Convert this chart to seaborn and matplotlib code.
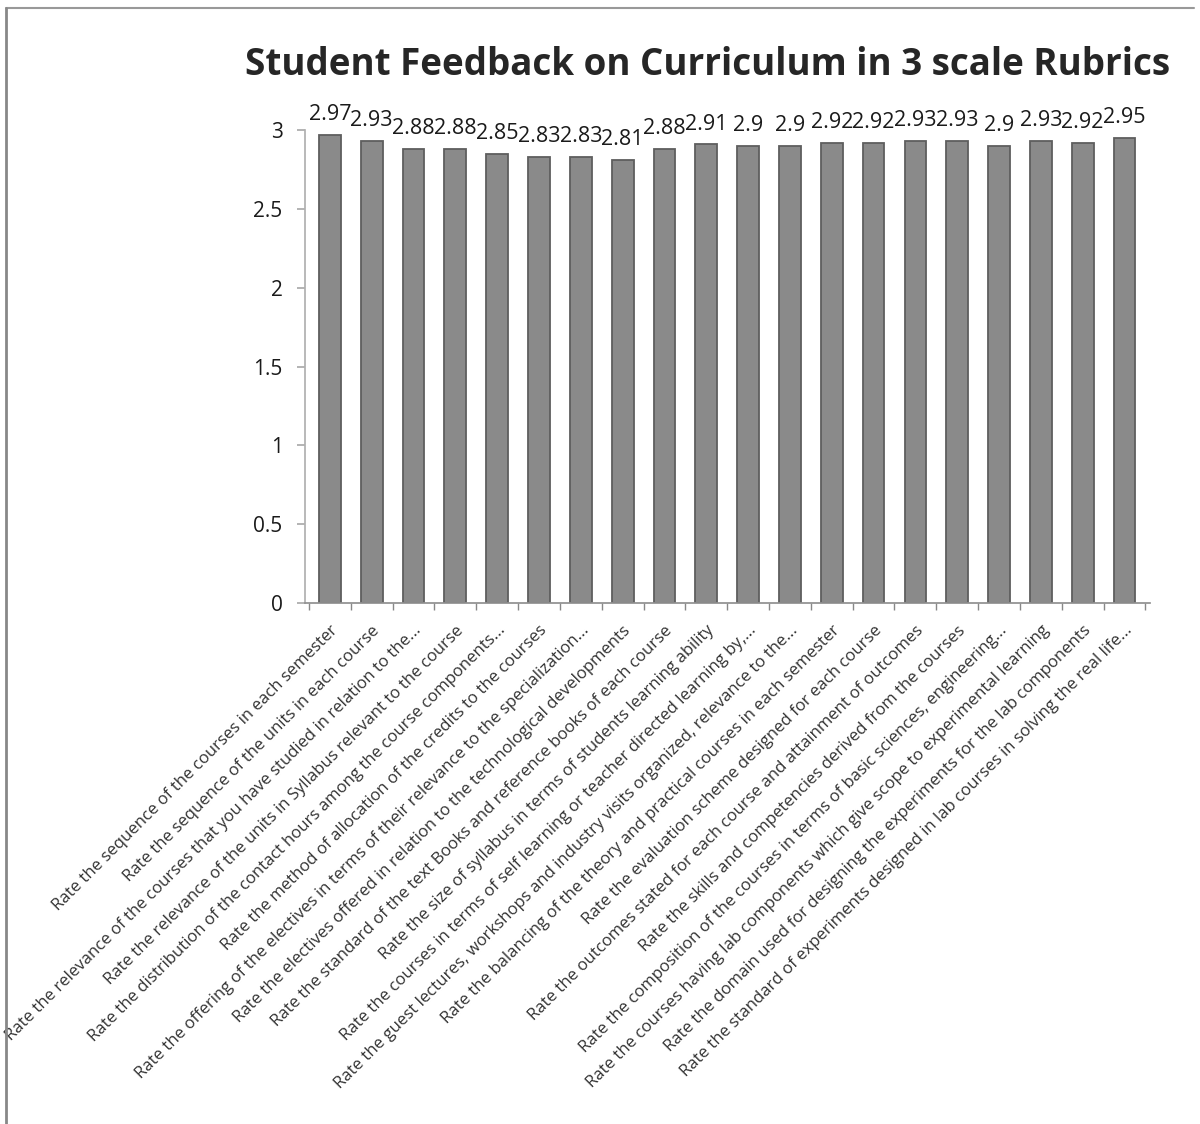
import numpy as np
import pandas as pd
import matplotlib
matplotlib.use("Agg")
import matplotlib.pyplot as plt
from matplotlib.lines import Line2D
import seaborn as sns

# Данные
questions = [
    "Rate the sequence of the courses in each semester",
    "Rate the sequence of the units in each course",
    "Rate the relevance of the courses that you have studied in relation to the...",
    "Rate the relevance of the units in Syllabus relevant to the course",
    "Rate the distribution of the contact hours among the course components...",
    "Rate the method of allocation of the credits to the courses",
    "Rate the offering of the electives in terms of their relevance to the specialization...",
    "Rate the electives offered in relation to the technological developments",
    "Rate the standard of the text Books and reference books of each course",
    "Rate the size of syllabus in terms of students learning ability",
    "Rate the courses in terms of self learning or teacher directed learning by,...",
    "Rate the guest lectures, workshops and industry visits organized, relevance to the...",
    "Rate the balancing of the theory and practical courses in each semester",
    "Rate the evaluation scheme designed for each course",
    "Rate the outcomes stated for each course and attainment of outcomes",
    "Rate the skills and competencies derived from the courses",
    "Rate the composition of the courses in terms of basic sciences, engineering...",
    "Rate the courses having lab components which give scope to experimental learning",
    "Rate the domain used for designing the experiments for the lab components",
    "Rate the standard of experiments designed in lab courses in solving the real life...",
]
scores = [2.97, 2.93, 2.88, 2.88, 2.85, 2.83, 2.83, 2.81, 2.88, 2.91,
          2.9, 2.9, 2.92, 2.92, 2.93, 2.93, 2.9, 2.93, 2.92, 2.95]
y_ticks = [0, 0.5, 1, 1.5, 2, 2.5, 3]

df = pd.DataFrame({"question": questions, "score": scores})

sns.set_theme(style="white")
plt.rcParams['font.family'] = ['Open Sans', 'DejaVu Sans']

fig = plt.figure(figsize=(12, 11.24), dpi=100)
ax = fig.add_axes([0.254, 0.4635, 0.704, 0.4208])

sns.barplot(data=df, x="question", y="score", order=questions, color="#8a8a8a",
            saturation=1, width=0.52, edgecolor="#5e5e5e", linewidth=1.3, ax=ax)

ax.bar_label(ax.containers[0], labels=[f"{v:g}" for v in scores],
             padding=7, fontsize=15.5, color="#1a1a1a")

ax.set_ylim(0, 3)
ax.set_xlim(-0.6, len(questions) - 0.4)
ax.set_yticks(y_ticks)
ax.set_yticklabels([f"{t:g}" for t in y_ticks], fontsize=15, color="#1a1a1a")
ax.set_xticks(range(len(questions)))
ax.set_xticklabels(questions, rotation=45, ha="right", rotation_mode="anchor",
                   fontsize=12.1, color="#333333")
ax.tick_params(axis="x", length=0, pad=14)
ax.set_xticks(np.arange(-0.5, len(questions), 1), minor=True)
ax.tick_params(axis="x", which="minor", length=5, color="#888888", direction="out", bottom=True)
ax.tick_params(axis="y", length=6, color="#aaaaaa", direction="out", left=True, pad=10)
ax.set_xlabel("")
ax.set_ylabel("")

for side in ["top", "right"]:
    ax.spines[side].set_visible(False)
ax.spines["left"].set_color("#b0b0b0")
ax.spines["bottom"].set_color("#909090")

fig.text(0.59, 0.942, "Student Feedback on Curriculum in 3 scale Rubrics",
         ha="center", va="center", fontsize=26.5, fontweight="bold", color="#262626")

# рамка скана
fig.add_artist(Line2D([0.005, 0.995], [0.993, 0.993], color="#999999", lw=1.5))
fig.add_artist(Line2D([0.005, 0.005], [0.0, 0.993], color="#888888", lw=2))

fig.savefig("out.png", dpi=100)
